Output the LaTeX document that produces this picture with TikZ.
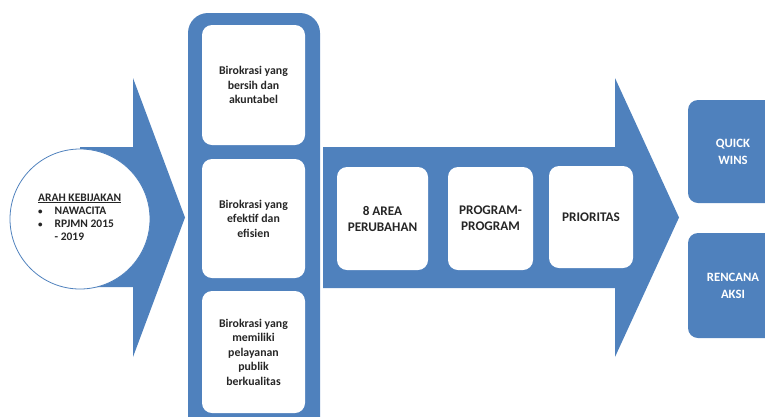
\documentclass[tikz,border=0pt]{standalone}
\usepackage{fontspec}
\setmainfont{Carlito}
\usepackage{tikz}

\definecolor{flowblue}{HTML}{4F81BD}
\definecolor{inktext}{HTML}{262626}

\begin{document}
\begin{tikzpicture}[x=1pt,y=-1pt]

        \useasboundingbox (0,0) rectangle (765,416);
        \clip (0,0) rectangle (765,416);

        \fill[flowblue] (80,147) -- (133,147) -- (133,78) -- (185,217.5)
          -- (133,357) -- (133,287) -- (80,287) -- cycle;

        \node (arah) [circle, draw=flowblue, line width=.8pt, fill=white,
          minimum size=140pt, inner sep=0pt] at (80,219) {};

        \node (arahtext) [anchor=north west, inner sep=0pt, text=inktext,
          font=\bfseries\fontsize{11.5}{14}\selectfont] at (38,191)
          {\begin{tabular}{@{}l@{\hspace{12pt}}l@{}}
             \multicolumn{2}{@{}l@{}}{\underline{ARAH KEBIJAKAN}}\\[-1pt]
             {\small\textbullet} & NAWACITA\\[-1pt]
             {\small\textbullet} & RPJMN 2015\\[-1pt]
                                 & - 2019
           \end{tabular}};

        \fill[flowblue, rounded corners=20pt] (188,13) rectangle (320,440);

        \fill[flowblue] (323,147) -- (615,147) -- (615,78) -- (679,217.5)
          -- (615,357) -- (615,288) -- (323,288) -- cycle;

        \begin{scope}[every node/.style={fill=white, rounded corners=10pt,
            inner sep=2pt, text=inktext, align=center,
            font=\bfseries\fontsize{11.8}{14.5}\selectfont}]
          \node (b1) [minimum width=103pt, minimum height=120pt] at (253.5,85)
            {Birokrasi yang\\bersih dan\\akuntabel};
          \node (b2) [minimum width=103pt, minimum height=119pt] at (253.5,218.5)
            {Birokrasi yang\\efektif dan\\efisien};
          \node (b3) [minimum width=103pt, minimum height=122pt] at (253.5,352)
            {Birokrasi yang\\memiliki\\pelayanan\\publik\\berkualitas};
        \end{scope}

        \begin{scope}[every node/.style={fill=white, rounded corners=10pt,
            inner sep=2pt, text=inktext, align=center,
            font=\bfseries\fontsize{13.2}{16}\selectfont}]
          \node (area)     [minimum width=91pt, minimum height=103pt] at (382.5,218.5)
            {8 AREA\\PERUBAHAN};
          \node (program)  [minimum width=85pt, minimum height=103pt] at (490.5,218.5)
            {PROGRAM-\\PROGRAM};
          \node (prioritas) [minimum width=84pt, minimum height=102pt] at (591,217)
            {PRIORITAS};
        \end{scope}

        \begin{scope}[every node/.style={fill=flowblue, rounded corners=10pt,
            inner sep=2pt, text=white, align=center,
            font=\bfseries\fontsize{12.7}{17}\selectfont}]
          \node (quick)   [minimum width=90pt, minimum height=103pt] at (733,151.5)
            {QUICK\\WINS};
          \node (rencana) [minimum width=90pt, minimum height=105pt] at (733,285.5)
            {RENCANA\\AKSI};
        \end{scope}

      \end{tikzpicture}
\end{document}
